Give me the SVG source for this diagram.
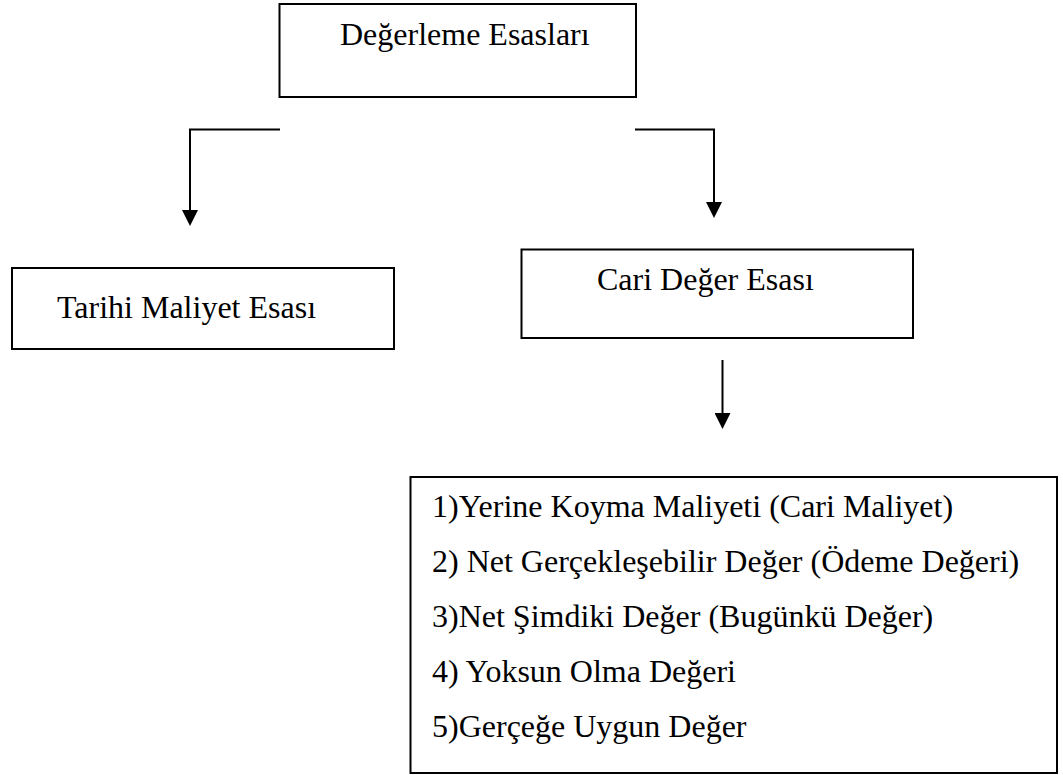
<svg xmlns="http://www.w3.org/2000/svg" width="1063" height="775" viewBox="0 0 1063 775">
  <style>
    .box { fill: #ffffff; stroke: #000000; stroke-width: 2; }
    .lbl { font-family: 'Liberation Serif', 'Times New Roman', 'DejaVu Serif', serif; font-size: 32px; fill: #000000; }
    .conn { fill: none; stroke: #000000; stroke-width: 2; }
  </style>
  <defs>
    <marker id="arrow" markerUnits="userSpaceOnUse" markerWidth="16" markerHeight="16" viewBox="0 0 16 16" refX="0" refY="8" orient="auto">
      <path d="M0,0 L16,8 L0,16 Z" fill="#000000"/>
    </marker>
  </defs>
  <rect width="1063" height="775" fill="#ffffff"/>

  <g id="node-degerleme" font-family="Liberation Serif, serif">
    <rect class="box" x="279.5" y="4" width="356.5" height="93"/>
    <text class="lbl" x="340" y="45">Değerleme Esasları</text>
  </g>

  <g id="node-tarihi" font-family="Liberation Serif, serif">
    <rect class="box" x="12" y="268" width="382" height="81"/>
    <text class="lbl" x="57" y="318">Tarihi Maliyet Esası</text>
  </g>

  <g id="node-cari" font-family="Liberation Serif, serif">
    <rect class="box" x="521.5" y="249.5" width="391.5" height="88.5"/>
    <text class="lbl" x="597" y="290">Cari Değer Esası</text>
  </g>

  <g id="node-list" font-family="Liberation Serif, serif">
    <rect class="box" x="410.5" y="477" width="646.5" height="296"/>
    <text class="lbl" x="432" y="517">1)Yerine Koyma Maliyeti (Cari Maliyet)</text>
    <text class="lbl" x="432" y="572">2) Net Gerçekleşebilir Değer (Ödeme Değeri)</text>
    <text class="lbl" x="432" y="627">3)Net Şimdiki Değer (Bugünkü Değer)</text>
    <text class="lbl" x="432" y="682">4) Yoksun Olma Değeri</text>
    <text class="lbl" x="432" y="737">5)Gerçeğe Uygun Değer</text>
  </g>

  <g id="connectors">
    <path class="conn" d="M280,129.5 H190 V210" marker-end="url(#arrow)"/>
    <path class="conn" d="M635,129.5 H714 V202" marker-end="url(#arrow)"/>
    <path class="conn" d="M722.5,360 V413" marker-end="url(#arrow)"/>
  </g>
</svg>
